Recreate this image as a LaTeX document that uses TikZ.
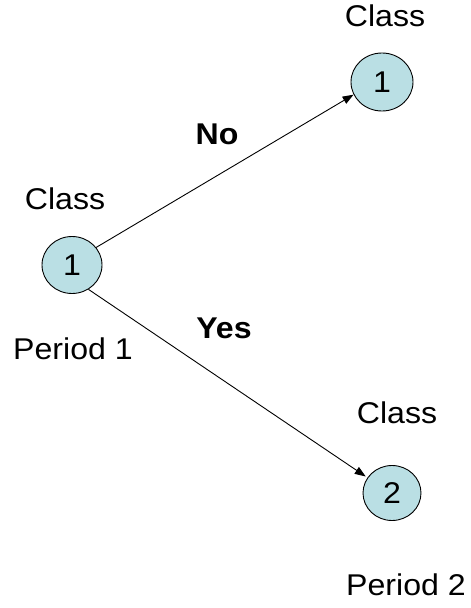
\documentclass[tikz,border=0pt]{standalone}
\usepackage{fontspec}
\setmainfont{Liberation Sans}[FakeStretch=1.07]
\usetikzlibrary{arrows.meta,shapes.geometric}
\definecolor{nodefill}{RGB}{186,223,228}
\begin{document}
\begin{tikzpicture}[x=1pt,y=-1pt,
  every node/.style={font=\fontsize{30}{34}\selectfont},
  state/.style={ellipse,draw=black,line width=0.9pt,fill=nodefill,inner sep=0pt},
  lbl/.style={inner sep=0pt,anchor=base},
  boldlbl/.style={lbl,font=\fontsize{30}{34}\selectfont\bfseries},
  conn/.style={draw=black,line width=0.9pt,-{Triangle[length=11pt,width=8pt]}}]
\useasboundingbox (0,0) rectangle (471,608);
\node[state,minimum width=60pt,minimum height=57pt] (a) at (72,265) {1};
\node[state,minimum width=62pt,minimum height=58pt] (b) at (382,82) {1};
\node[state,minimum width=58pt,minimum height=55pt] (c) at (392,493) {2};
\node[lbl] (ca) at (65,209) {Class};
\node[lbl] (cb) at (385,26) {Class};
\node[lbl] (cc) at (397,423) {Class};
\node[lbl] (p1) at (73,359) {Period 1};
\node[lbl] (p2) at (406,595) {Period 2};
\node[boldlbl] (no) at (217,144) {No};
\node[boldlbl] (yes) at (224,338) {Yes};
\draw[conn] (a.36) -- (b.204);
\draw[conn,shorten >=2pt] (a.-56) -- (c.148);
\end{tikzpicture}
\end{document}
